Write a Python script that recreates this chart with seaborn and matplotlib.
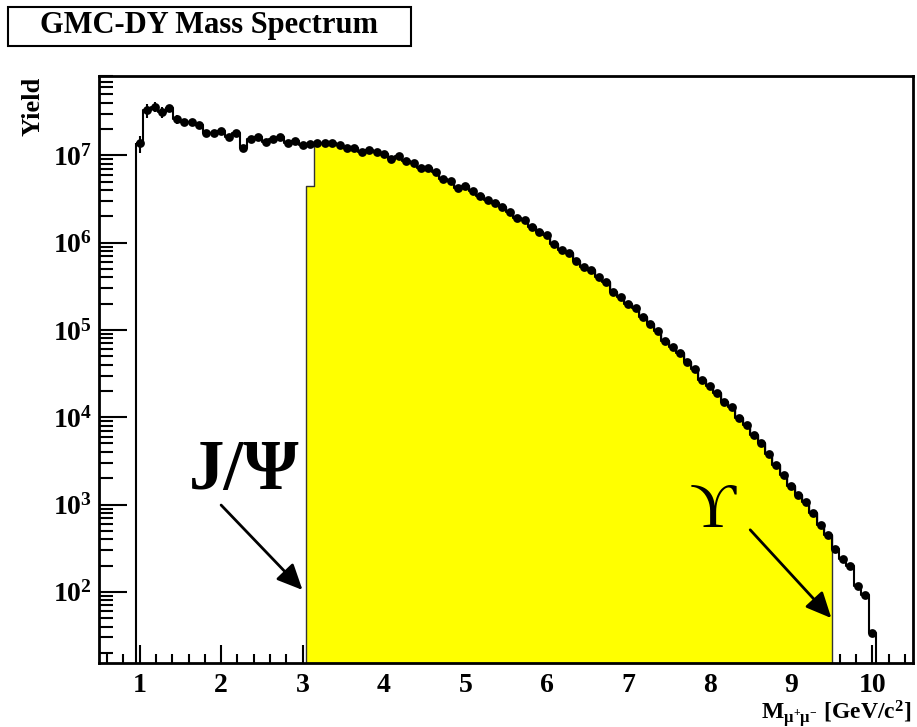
import numpy as np
import pandas as pd
import matplotlib
matplotlib.use("Agg")
import matplotlib.pyplot as plt
import seaborn as sns
from matplotlib.patches import Rectangle
from matplotlib.ticker import LogLocator, MultipleLocator, FixedLocator

# ---------------- data ----------------
n_bins = 100
mass_lo, mass_hi = 1.0, 10.0          # first / last bin centre [GeV/c^2]
yield_vals = [
    1.37e7, 3.3e7, 3.6e7, 3.1e7, 3.45e7, 2.58e7, 2.4e7, 2.4e7, 2.22e7, 1.81e7,
    1.81e7, 1.91e7, 1.63e7, 1.79e7, 1.2e7, 1.52e7, 1.61e7, 1.42e7, 1.52e7, 1.61e7,
    1.37e7, 1.47e7, 1.3e7, 1.33e7, 1.37e7, 1.37e7, 1.39e7, 1.31e7, 1.2e7, 1.2e7,
    1.1e7, 1.15e7, 1.08e7, 1.03e7, 9.0e6, 9.8e6, 8.5e6, 8.2e6, 7.1e6, 7.2e6,
    6.5e6, 5.4e6, 5.1e6, 4.2e6, 4.5e6, 3.9e6, 3.4e6, 3.1e6, 2.82e6, 2.54e6,
    2.26e6, 1.9e6, 1.82e6, 1.5e6, 1.33e6, 1.22e6, 9.6e5, 8.2e5, 7.7e5, 6.2e5,
    5.3e5, 4.8e5, 4.0e5, 3.56e5, 2.74e5, 2.4e5, 2.0e5, 1.77e5, 1.41e5, 1.17e5,
    9.8e4, 7.5e4, 6.3e4, 5.4e4, 4.3e4, 3.6e4, 2.7e4, 2.28e4, 1.88e4, 1.5e4,
    1.3e4, 9.7e3, 8.1e3, 6.3e3, 5.0e3, 3.8e3, 2.8e3, 2.2e3, 1.65e3, 1.28e3,
    1.08e3, 7.9e2, 5.8e2, 4.5e2, 3.1e2, 2.4e2, 2.0e2, 1.16e2, 91, 34,
]
err_frac = [0.22, 0.18, 0.12, 0.14, 0.10, 0.12, 0.10, 0.08, 0.08, 0.06,
            0.06, 0.06] + [0.03] * 88
# J/psi - Upsilon window (yellow) : bin indices and first-bin partial content
win_first, win_last = 23, 93
win_first_val = 4.5e6

y_major_ticks = [1e2, 1e3, 1e4, 1e5, 1e6, 1e7]
title = "GMC-DY Mass Spectrum"
ylabel = "Yield"
xlabel = r"$\mathdefault{M_{μ^{+}μ^{-}}\ [GeV/c^{2}]}$"
jpsi_label = "J/Ψ"
ups_label = "ϒ"

# ---------------- derived ----------------
centers = np.linspace(mass_lo, mass_hi, n_bins)
width = centers[1] - centers[0]
edges = np.append(centers - width / 2, centers[-1] + width / 2)
vals = np.array(yield_vals, dtype=float)
err = vals * np.array(err_frac)
win_vals = vals[win_first:win_last + 1].copy()
win_vals[0] = win_first_val

df = pd.DataFrame({"mass": centers, "yield": vals, "err": err})
dfw = pd.DataFrame({"mass": centers[win_first:win_last + 1], "yield": win_vals})

# ---------------- style ----------------
sns.set_theme(style="ticks")
plt.rcParams["font.family"] = ["Liberation Serif", "DejaVu Serif"]
plt.rcParams["font.weight"] = "bold"
plt.rcParams["mathtext.fontset"] = "custom"
plt.rcParams["mathtext.rm"] = "Liberation Serif:bold"
plt.rcParams["mathtext.it"] = "Liberation Serif:bold"
plt.rcParams["mathtext.bf"] = "Liberation Serif:bold"
for k in ["text.color", "axes.labelcolor", "xtick.color", "ytick.color",
          "axes.edgecolor"]:
    plt.rcParams[k] = "black"

W, H = 917, 727
fig = plt.figure(figsize=(W / 100, H / 100), dpi=100)
fig.patch.set_facecolor("white")
L, R, T, B = 99, 913, 76, 663
ax = fig.add_axes([L / W, 1 - B / H, (R - L) / W, (B - T) / H])
ax.set_facecolor("white")

# yellow window histogram
sns.histplot(data=dfw, x="mass", weights="yield", bins=win_last - win_first + 1,
             binrange=(edges[win_first], edges[win_last + 1]),
             element="step", fill=True, color="#ffff00",
             facecolor="#ffff00", edgecolor="#333333",
             linewidth=1.0, alpha=1, ax=ax, zorder=1)
# full histogram outline
sns.histplot(data=df, x="mass", weights="yield", bins=n_bins,
             binrange=(edges[0], edges[-1]),
             element="step", fill=True, color="black",
             facecolor="none", edgecolor="black",
             linewidth=1.5, ax=ax, zorder=2)
# data points with error bars
ax.errorbar(df["mass"], df["yield"], yerr=df["err"], fmt="none",
            ecolor="black", elinewidth=1.5, capsize=0, zorder=3)
sns.scatterplot(data=df, x="mass", y="yield", color="black", s=40,
                edgecolor="black", linewidth=0, ax=ax, zorder=4)

ax.set_yscale("log")
ax.set_xlim(0.5, 10.5)
ax.set_ylim(15.3, 8.1e7)

# ticks (ROOT-like: inward, left/bottom only)
ax.xaxis.set_major_locator(MultipleLocator(1))
ax.xaxis.set_minor_locator(MultipleLocator(0.2))
ax.yaxis.set_major_locator(FixedLocator(y_major_ticks))
ax.yaxis.set_minor_locator(LogLocator(base=10, subs=np.arange(2, 10), numticks=20))
ax.tick_params(axis="both", which="both", direction="in", top=False, right=False,
               colors="black", width=1.5)
ax.tick_params(axis="x", which="major", length=13, labelsize=20, pad=7)
ax.tick_params(axis="x", which="minor", length=6.5)
ax.tick_params(axis="y", which="major", length=20, labelsize=20, pad=5)
ax.tick_params(axis="y", which="minor", length=10, labelleft=False)
for lab in ax.get_xticklabels() + ax.get_yticklabels():
    lab.set_fontweight("bold")
for sp in ax.spines.values():
    sp.set_linewidth(2)
    sp.set_color("black")
    sp.set_visible(True)

ax.set_xlabel("")
ax.set_ylabel("")
fig.text(912 / W, 1 - 719 / H, xlabel, ha="right", va="baseline", fontsize=17,
         fontweight="bold")
fig.text(33 / W, 1 - 77 / H, ylabel, ha="center", va="top", rotation=90,
         fontsize=19, fontweight="bold")

# title box
fig.patches.append(Rectangle((8 / W, 1 - 46 / H), 403 / W, 39 / H,
                             transform=fig.transFigure, facecolor="white",
                             edgecolor="black", linewidth=1.5))
fig.text(209 / W, 1 - 26 / H, title, ha="center", va="center", fontsize=22,
         fontweight="bold")

# annotations
ax.text(2.28, 2.4e3, jpsi_label, ha="center", va="center", fontsize=51,
        fontweight="bold")
ax.text(8.04, 820, ups_label, ha="center", va="center", fontsize=46,
        fontweight="normal", family=["Liberation Serif", "DejaVu Serif"])
arrow = dict(arrowstyle="-|>,head_length=1.3,head_width=0.6", color="black",
             lw=2, shrinkA=0, shrinkB=0)
ax.annotate("", xy=(3.0, 105), xytext=(2.0, 986), arrowprops=arrow)
ax.annotate("", xy=(9.497, 50), xytext=(8.5, 513), arrowprops=arrow)

fig.savefig("out.png", dpi=100)
